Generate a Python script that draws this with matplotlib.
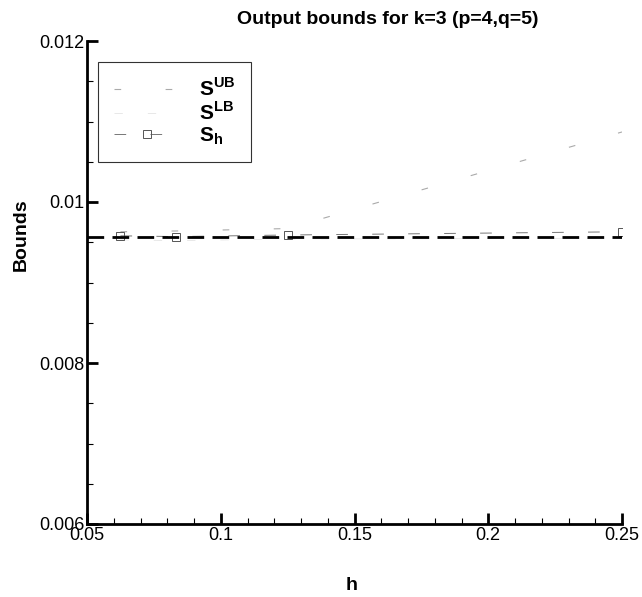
import numpy as np
import matplotlib
matplotlib.use("Agg")
import matplotlib.pyplot as plt
from matplotlib.ticker import MultipleLocator, FuncFormatter

plt.rcParams['font.family'] = ['Liberation Sans', 'DejaVu Sans']
plt.rcParams['mathtext.fontset'] = 'custom'
plt.rcParams['mathtext.rm'] = 'Liberation Sans'
plt.rcParams['mathtext.bf'] = 'Liberation Sans:bold'

# mesh sizes and bounds
h = [0.0625, 0.0833, 0.125, 0.25]
s_ub = [0.00963, 0.00964, 0.00967, 0.01087]
s_lb = [0.00953, 0.00952, 0.00954, 0.00955]
s_h = [0.00958, 0.00957, 0.00959, 0.00963]
s_ref = 0.009565
x_range = [0.05, 0.25]

fig = plt.figure(figsize=(6.42, 5.97), dpi=100)
ax = fig.add_axes([87/642, 1-524/597, 535/642, 483/597])

ax.plot(x_range, [s_ref, s_ref], color='black', lw=2, dashes=(6, 3), zorder=3)
l1, = ax.plot(h, s_ub, color='#aaaaaa', lw=0.8, dashes=(6, 40), label=r'$\mathbf{S}^{\mathbf{UB}}$')
l2, = ax.plot(h, s_lb, color='#e4e4e4', lw=0.6, dashes=(10, 30), label=r'$\mathbf{S}^{\mathbf{LB}}$')
l3, = ax.plot(h, s_h, color='#777777', lw=0.7, dashes=(12, 25), marker='s', ms=6,
              mfc='none', mec='#555555', mew=0.7, label=r'$\mathbf{S}_{\mathbf{h}}$')

ax.set_xlim(0.05, 0.25)
ax.set_ylim(0.006, 0.012)
ax.xaxis.set_major_locator(MultipleLocator(0.05))
ax.xaxis.set_minor_locator(MultipleLocator(0.01))
ax.yaxis.set_major_locator(MultipleLocator(0.002))
ax.yaxis.set_minor_locator(MultipleLocator(0.0005))
fmt = FuncFormatter(lambda v, p: '%g' % round(v, 6))
ax.xaxis.set_major_formatter(fmt)
ax.yaxis.set_major_formatter(fmt)
ax.tick_params(which='major', direction='in', length=8, width=2, labelsize=13, pad=2)
ax.tick_params(which='minor', direction='in', length=4, width=0.8)
ax.spines['top'].set_visible(False)
ax.spines['right'].set_visible(False)
ax.spines['left'].set_linewidth(2)
ax.spines['bottom'].set_linewidth(2)

leg = ax.legend(handles=[l1, l2, l3], loc='upper left',
                bbox_to_anchor=(11/535, 1-21/483), fontsize=15,
                handlelength=3.2, frameon=True, fancybox=False,
                borderpad=0.75, labelspacing=0.05, handletextpad=0.9,
                borderaxespad=0)
leg.get_frame().set_edgecolor('black')
leg.get_frame().set_linewidth(0.8)

fig.text(388/642, 1-20/597, 'Output bounds for k=3 (p=4,q=5)', ha='center', va='center',
         fontsize=14, fontweight='bold')
fig.text(21/642, 1-235/597, 'Bounds', rotation=90, ha='center', va='center',
         fontsize=14, fontweight='bold')
fig.text(352/642, 1-585/597, 'h', ha='center', va='center', fontsize=14, fontweight='bold')

fig.savefig('out.png', dpi=100)
